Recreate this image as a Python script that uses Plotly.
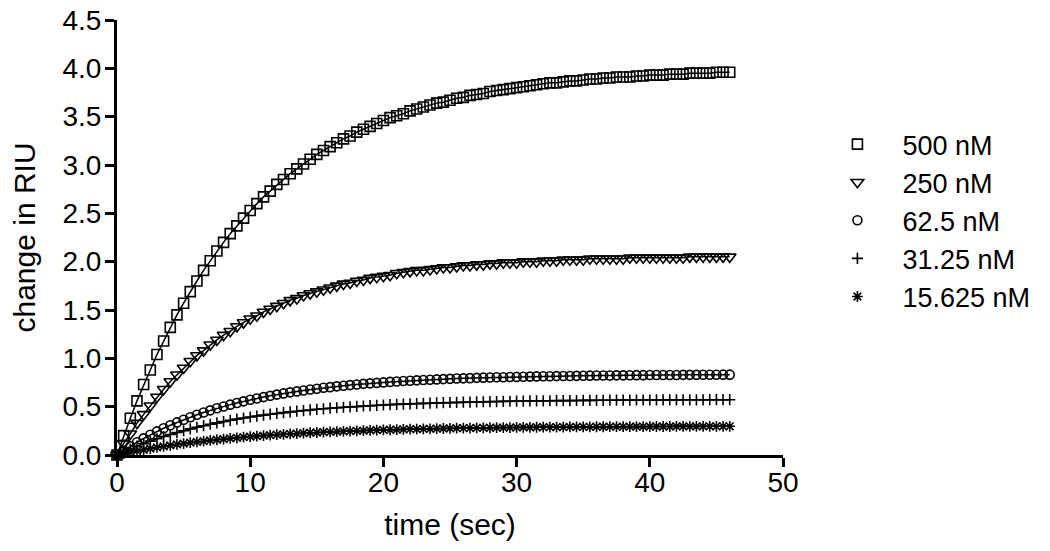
import plotly.graph_objects as go

time_sec = [0, 0.5, 1, 1.5, 2, 2.5, 3, 3.5, 4, 4.5, 5, 5.5, 6, 6.5, 7, 7.5, 8, 8.5, 9, 9.5,
            10, 10.5, 11, 11.5, 12, 12.5, 13, 13.5, 14, 14.5, 15, 15.5, 16, 16.5, 17, 17.5, 18, 18.5, 19, 19.5,
            20, 20.5, 21, 21.5, 22, 22.5, 23, 23.5, 24, 24.5, 25, 25.5, 26, 26.5, 27, 27.5, 28, 28.5, 29, 29.5,
            30, 30.5, 31, 31.5, 32, 32.5, 33, 33.5, 34, 34.5, 35, 35.5, 36, 36.5, 37, 37.5, 38, 38.5, 39, 39.5,
            40, 40.5, 41, 41.5, 42, 42.5, 43, 43.5, 44, 44.5, 45, 45.5, 46]

riu_500 = [0, 0.20, 0.38, 0.56, 0.73, 0.88, 1.04, 1.18, 1.32, 1.45, 1.57, 1.69, 1.80, 1.91, 2.01, 2.11, 2.20, 2.29, 2.37, 2.45,
           2.53, 2.60, 2.67, 2.73, 2.80, 2.85, 2.91, 2.96, 3.01, 3.06, 3.11, 3.15, 3.19, 3.23, 3.27, 3.30, 3.34, 3.37, 3.40, 3.43,
           3.46, 3.49, 3.51, 3.53, 3.56, 3.58, 3.60, 3.62, 3.64, 3.65, 3.67, 3.69, 3.70, 3.72, 3.73, 3.74, 3.76, 3.77, 3.78, 3.79,
           3.80, 3.81, 3.82, 3.83, 3.84, 3.85, 3.85, 3.86, 3.87, 3.87, 3.88, 3.89, 3.89, 3.90, 3.90, 3.91, 3.91, 3.91, 3.92, 3.92,
           3.93, 3.93, 3.93, 3.94, 3.94, 3.94, 3.95, 3.95, 3.95, 3.95, 3.96, 3.96, 3.96]

riu_250 = [0, 0.12, 0.22, 0.33, 0.42, 0.51, 0.60, 0.68, 0.76, 0.83, 0.90, 0.97, 1.03, 1.08, 1.14, 1.19, 1.24, 1.28, 1.33, 1.37,
           1.41, 1.44, 1.48, 1.51, 1.54, 1.57, 1.60, 1.62, 1.65, 1.67, 1.69, 1.71, 1.73, 1.75, 1.77, 1.78, 1.80, 1.81, 1.83, 1.84,
           1.85, 1.86, 1.88, 1.89, 1.90, 1.91, 1.91, 1.92, 1.93, 1.94, 1.94, 1.95, 1.96, 1.96, 1.97, 1.97, 1.98, 1.98, 1.99, 1.99,
           1.99, 2.00, 2.00, 2.00, 2.01, 2.01, 2.01, 2.02, 2.02, 2.02, 2.02, 2.03, 2.03, 2.03, 2.03, 2.03, 2.03, 2.04, 2.04, 2.04,
           2.04, 2.04, 2.04, 2.04, 2.04, 2.04, 2.05, 2.05, 2.05, 2.05, 2.05, 2.05, 2.05]

riu_62_5 = [0, 0.047, 0.091, 0.132, 0.172, 0.209, 0.244, 0.277, 0.308, 0.337, 0.365, 0.391, 0.416, 0.440, 0.462, 0.483, 0.502, 0.521, 0.538, 0.555,
            0.571, 0.585, 0.599, 0.612, 0.625, 0.637, 0.648, 0.658, 0.668, 0.677, 0.686, 0.695, 0.702, 0.710, 0.717, 0.723, 0.730, 0.736, 0.741, 0.746,
            0.751, 0.756, 0.760, 0.765, 0.768, 0.772, 0.776, 0.779, 0.782, 0.785, 0.788, 0.791, 0.793, 0.795, 0.798, 0.800, 0.802, 0.804, 0.805, 0.807,
            0.808, 0.810, 0.811, 0.813, 0.814, 0.815, 0.816, 0.817, 0.818, 0.819, 0.820, 0.821, 0.822, 0.822, 0.823, 0.824, 0.824, 0.825, 0.826, 0.826,
            0.827, 0.827, 0.828, 0.828, 0.828, 0.829, 0.829, 0.829, 0.830, 0.830, 0.830, 0.831, 0.831]

riu_31_25 = [0, 0.032, 0.062, 0.091, 0.118, 0.144, 0.168, 0.191, 0.212, 0.232, 0.251, 0.270, 0.287, 0.303, 0.318, 0.332, 0.346, 0.359, 0.371, 0.382,
             0.393, 0.403, 0.413, 0.422, 0.430, 0.438, 0.446, 0.453, 0.460, 0.466, 0.473, 0.478, 0.484, 0.489, 0.494, 0.498, 0.502, 0.507, 0.510, 0.514,
             0.517, 0.521, 0.524, 0.526, 0.529, 0.532, 0.534, 0.536, 0.539, 0.541, 0.543, 0.544, 0.546, 0.548, 0.549, 0.551, 0.552, 0.553, 0.555, 0.556,
             0.557, 0.558, 0.559, 0.560, 0.560, 0.561, 0.562, 0.563, 0.563, 0.564, 0.565, 0.565, 0.566, 0.566, 0.567, 0.567, 0.568, 0.568, 0.569, 0.569,
             0.569, 0.570, 0.570, 0.570, 0.570, 0.571, 0.571, 0.571, 0.571, 0.572, 0.572, 0.572, 0.572]

riu_15_625 = [0, 0.015, 0.029, 0.042, 0.054, 0.066, 0.078, 0.089, 0.099, 0.109, 0.118, 0.127, 0.135, 0.143, 0.151, 0.158, 0.165, 0.172, 0.178, 0.184,
              0.190, 0.195, 0.200, 0.205, 0.210, 0.214, 0.218, 0.222, 0.226, 0.230, 0.233, 0.236, 0.239, 0.242, 0.245, 0.248, 0.250, 0.253, 0.255, 0.257,
              0.259, 0.261, 0.263, 0.265, 0.267, 0.268, 0.270, 0.271, 0.273, 0.274, 0.275, 0.277, 0.278, 0.279, 0.280, 0.281, 0.282, 0.283, 0.283, 0.284,
              0.285, 0.286, 0.286, 0.287, 0.288, 0.288, 0.289, 0.289, 0.290, 0.290, 0.291, 0.291, 0.292, 0.292, 0.293, 0.293, 0.293, 0.294, 0.294, 0.294,
              0.295, 0.295, 0.295, 0.295, 0.296, 0.296, 0.296, 0.296, 0.296, 0.297, 0.297, 0.297, 0.297]

series_names = ["500 nM", "250 nM", "62.5 nM", "31.25 nM", "15.625 nM"]
series_values = [riu_500, riu_250, riu_62_5, riu_31_25, riu_15_625]
symbols = ["square-open", "triangle-down-open", "circle-open", "cross-thin-open", "asterisk-open"]
sizes = [10, 11, 9, 8, 9]

FONT = "Arial, Liberation Sans, Helvetica, sans-serif"

fig = go.Figure()

for name, vals in zip(series_names, series_values):
    fig.add_trace(go.Scatter(x=time_sec, y=vals, mode="lines", showlegend=False,
                             line=dict(color="black", width=1.5), cliponaxis=False,
                             hoverinfo="skip"))

for name, vals, sym, sz in zip(series_names, series_values, symbols, sizes):
    fig.add_trace(go.Scatter(x=time_sec, y=vals, mode="markers", name=name,
                             marker=dict(symbol=sym, size=sz, color="black",
                                         line=dict(color="black", width=1.6)),
                             cliponaxis=False))

# the page adds an 8px body margin, so the figure size and margins compensate
fig.update_layout(
    width=1042, height=543,
    paper_bgcolor="white", plot_bgcolor="white",
    margin=dict(l=109, r=267, t=12, b=96, autoexpand=False),
    font=dict(family=FONT, size=28, color="black"),
    legend=dict(xref="container", x=0.772, yref="paper", y=0.77,
                xanchor="left", yanchor="top",
                font=dict(family=FONT, size=27, color="black"),
                bgcolor="rgba(0,0,0,0)", itemwidth=80, tracegroupgap=0,
                itemsizing="trace"),
    xaxis=dict(range=[0, 50], dtick=10, tick0=0, showgrid=False, zeroline=False,
               showline=True, linecolor="black", linewidth=3, automargin=False,
               ticks="outside", ticklen=9, tickwidth=3, tickcolor="black",
               ticklabeloverflow="allow", ticklabelstandoff=-9,
               tickfont=dict(family=FONT, size=28, color="black"),
               title=dict(text="time (sec)", font=dict(family=FONT, size=30, color="black"), standoff=18)),
    yaxis=dict(range=[0, 4.5], dtick=0.5, tick0=0, tickformat=".1f", showgrid=False, zeroline=False,
               showline=True, linecolor="black", linewidth=3, automargin=False,
               ticks="outside", ticklen=9, tickwidth=3, tickcolor="black",
               ticklabeloverflow="allow", ticklabelstandoff=-2,
               tickfont=dict(family=FONT, size=28, color="black"),
               title=dict(text="change in RIU", font=dict(family=FONT, size=30, color="black"), standoff=33)),
)

fig.write_html("out.html")
